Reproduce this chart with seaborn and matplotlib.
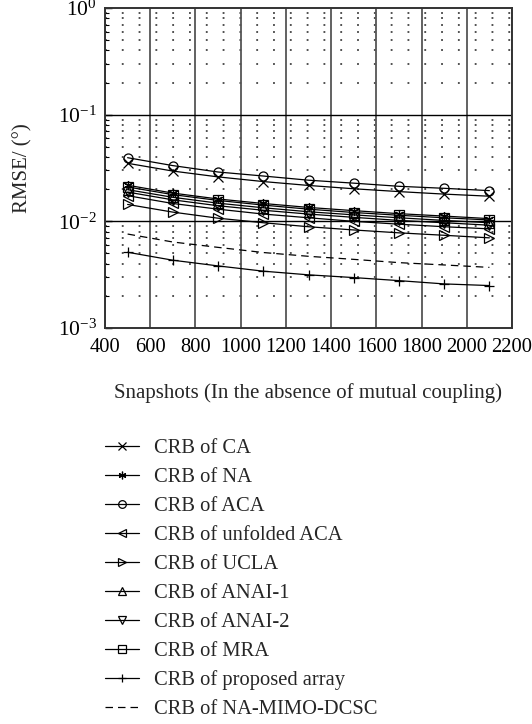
import matplotlib
matplotlib.use("Agg")
import matplotlib.pyplot as plt
import matplotlib.ticker as mticker
import numpy as np
import pandas as pd
import seaborn as sns

snapshots = [500, 700, 900, 1100, 1300, 1500, 1700, 1900, 2100]

crb_ca = [0.0350, 0.0296, 0.0261, 0.0236, 0.0217, 0.0202, 0.0190, 0.0180, 0.0172]
crb_na = [0.0218, 0.0184, 0.0162, 0.0147, 0.0135, 0.0126, 0.0118, 0.0112, 0.0106]
crb_aca = [0.0395, 0.0333, 0.0290, 0.0266, 0.0243, 0.0228, 0.0213, 0.0204, 0.0194]
crb_unfolded_aca = [0.0174, 0.0147, 0.0130, 0.0117, 0.0108, 0.0100, 0.0094, 0.0089, 0.0085]
crb_ucla = [0.0144, 0.0122, 0.0107, 0.0097, 0.0089, 0.0083, 0.0078, 0.0074, 0.0070]
crb_anai1 = [0.0198, 0.0168, 0.0148, 0.0134, 0.0123, 0.0115, 0.0108, 0.0102, 0.0097]
crb_anai2 = [0.0188, 0.0159, 0.0140, 0.0127, 0.0117, 0.0109, 0.0102, 0.0097, 0.0092]
crb_mra = [0.0210, 0.0178, 0.0157, 0.0142, 0.0130, 0.0121, 0.0114, 0.0108, 0.0103]
crb_proposed = [0.00513, 0.00432, 0.00382, 0.00341, 0.00315, 0.00297, 0.00278, 0.00259, 0.00250]
crb_na_mimo_dcsc = [0.0076, 0.0064, 0.0057, 0.0051, 0.0047, 0.0044, 0.0041, 0.0039, 0.0037]

labels = ["CRB of CA", "CRB of NA", "CRB of ACA", "CRB of unfolded ACA",
          "CRB of UCLA", "CRB of ANAI-1", "CRB of ANAI-2", "CRB of MRA",
          "CRB of proposed array", "CRB of NA-MIMO-DCSC"]
series = [crb_ca, crb_na, crb_aca, crb_unfolded_aca, crb_ucla, crb_anai1,
          crb_anai2, crb_mra, crb_proposed, crb_na_mimo_dcsc]
markers = ["x", (6, 2, 0), "o", "<", ">", "^", "v", "s", "+", None]
styles = ["-"] * 9 + [(0, (6, 4))]

x_ticks = [400, 600, 800, 1000, 1200, 1400, 1600, 1800, 2000, 2200]

sns.set_theme(style="white")
plt.rcParams["font.family"] = ["Liberation Serif", "DejaVu Serif"]
plt.rcParams["mathtext.fontset"] = "stix"

fig = plt.figure(figsize=(5.32, 7.24), dpi=100)
ax = fig.add_axes([105 / 532, 1 - 328 / 724, 407 / 532, 320 / 724])

for lab, vals, mk, ls in zip(labels, series, markers, styles):
    df = pd.DataFrame({"N": snapshots, "v": vals})
    kw = dict(color="black", linewidth=0.9, linestyle=ls, label=lab)
    if mk is not None:
        kw.update(marker=mk, markersize=6.5, markerfacecolor="none",
                  markeredgecolor="black", markeredgewidth=0.9)
    sns.lineplot(data=df, x="N", y="v", ax=ax, **kw)

if ax.get_legend() is not None:
    ax.get_legend().remove()

ax.set_yscale("log")
ax.set_ylim(1e-3, 1)
ax.set_xlim(400, 2200)
ax.set_xticks(x_ticks)
ax.set_xticklabels([str(t) for t in x_ticks])
ax.yaxis.set_major_locator(mticker.LogLocator(base=10, numticks=10))
ax.yaxis.set_minor_locator(mticker.LogLocator(base=10, subs=np.arange(2, 10), numticks=20))
ax.yaxis.set_minor_formatter(mticker.NullFormatter())

ax.grid(False)
for t in x_ticks:
    ax.axvline(t, color="#555555", linewidth=1.3, zorder=0.5)
for d in [1e-2, 1e-1]:
    ax.axhline(d, color="black", linewidth=1.0, zorder=0.5)
for dec in [1e-3, 1e-2, 1e-1]:
    for m in range(2, 10):
        ax.axhline(dec * m, color="#222222", linewidth=1.1,
                   linestyle=(0, (1.2, 9.8)), zorder=0.4)

for sp in ax.spines.values():
    sp.set_visible(True)
    sp.set_color("#333333")
    sp.set_linewidth(1.4)

ax.tick_params(axis="both", which="both", direction="in",
               colors="black", left=True, bottom=True, right=False, top=False)
ax.tick_params(axis="x", labelsize=14.8)
ax.tick_params(axis="y", labelsize=15.5)
ax.tick_params(axis="y", which="major", length=5, width=1, pad=6)
ax.tick_params(axis="y", which="minor", length=3, width=0.8)
ax.tick_params(axis="x", which="major", length=0, pad=7)

ax.set_xlabel("Snapshots (In the absence of mutual coupling)", fontsize=15, labelpad=19)
ax.set_ylabel("RMSE/ (°)", fontsize=15, labelpad=18)

handles, labs = ax.get_legend_handles_labels()
fig.legend(handles, labs, loc="upper left", bbox_to_anchor=(105 / 532, 1 - 439 / 724),
           bbox_transform=fig.transFigure, frameon=False, fontsize=14.8,
           handlelength=1.65, handletextpad=0.72, labelspacing=0.465,
           borderaxespad=0, borderpad=0, markerscale=0.85)

fig.savefig("out.png", dpi=100)
